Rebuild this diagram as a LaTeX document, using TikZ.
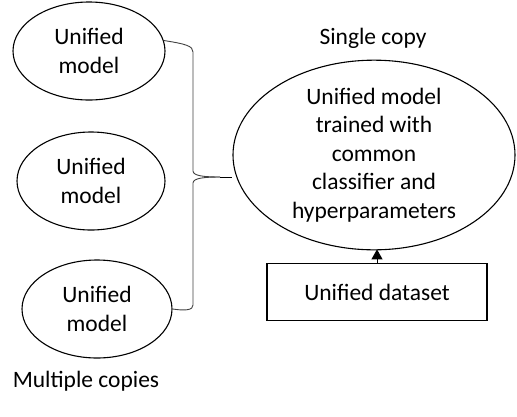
\documentclass[tikz,border=0pt]{standalone}
\usepackage{fontspec}
\setmainfont{Carlito}
\usetikzlibrary{shapes.geometric,arrows.meta}
\begin{document}
\begin{tikzpicture}[x=1pt,y=-1pt,
  every node/.style={font=\fontsize{23.5}{28.5}\selectfont, align=center, inner sep=0pt},
  oval/.style={ellipse, draw, line width=1.1pt},
  brace/.style={draw=black!75, line width=0.9pt},
  plain/.style={}]
\useasboundingbox (0,0) rectangle (517,416);
\node[oval, minimum width=152pt, minimum height=98pt] (e1) at (89,51) {Unified\\model};
\node[oval, minimum width=148pt, minimum height=98pt] (e2) at (91,181) {Unified\\model};
\node[oval, minimum width=150pt, minimum height=98pt] (e3) at (97,309) {Unified\\model};
\node[oval, minimum width=282pt, minimum height=180pt] (big) at (374,155) {Unified model\\trained with\\common\\classifier and\\hyperparameters};
\node[draw, line width=1.1pt, minimum width=220pt, minimum height=57pt] (ds) at (377,292) {Unified dataset};
\node[plain] (single) at (373,38) {Single copy};
\node[plain] (multi) at (86,381) {Multiple copies};
\coordinate (tip) at (220,177);
\coordinate (bt) at (193,52);
\coordinate (bm1) at (193,171);
\coordinate (bm2) at (193,183);
\coordinate (bb) at (193,305);
\draw[brace] (e1.8) .. controls (186,44) and (193,46) .. (bt) -- (bm1) .. controls (193,176) and (205,177) .. (tip);
\draw[brace] (tip) .. controls (205,177) and (193,178) .. (bm2) -- (bb) .. controls (193,310) and (186,311) .. (e3.east);
\draw[line width=1pt] (tip) -- (big.west |- tip);
\draw[line width=1pt, -{Triangle[length=10pt,width=11pt]}, shorten >=-1pt] (ds.north) -- (ds.north |- big.south);
\end{tikzpicture}
\end{document}
